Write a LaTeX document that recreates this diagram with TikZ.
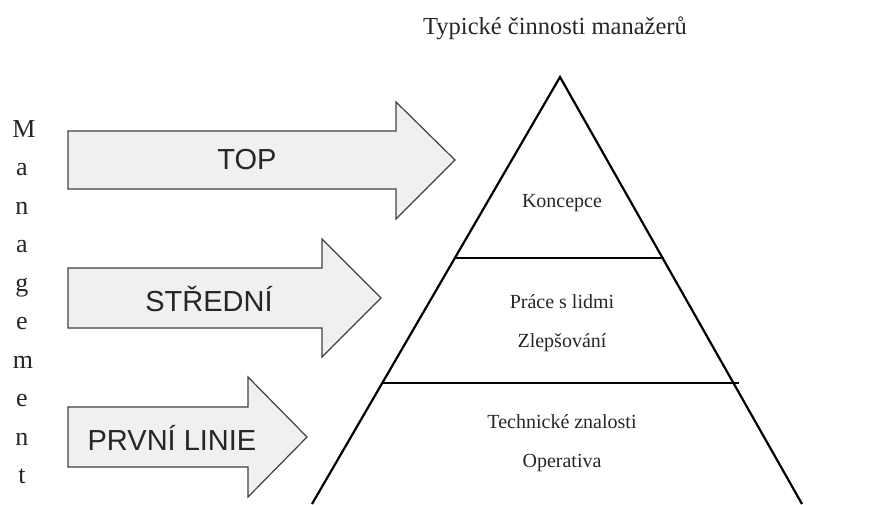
\documentclass[tikz,border=0pt]{standalone}
\usepackage{fontspec}
\setmainfont{Liberation Serif}
\newfontfamily\arialf{Liberation Sans}
\begin{document}
\begin{tikzpicture}[x=1pt,y=-1pt,
  arr/.style={draw=black!75,line width=1.2pt,fill=black!6,line join=miter},
  arrtext/.style={font=\arialf\fontsize{29}{31}\selectfont,text=black!85,inner sep=0pt},
  pyr/.style={draw=black,line width=2.2pt},
  pyrtext/.style={font=\fontsize{20}{22}\selectfont,text=black!85,inner sep=0pt},
  vlet/.style={font=\fontsize{26}{28}\selectfont,text=black!85,inner sep=0pt,anchor=base},
  ttl/.style={font=\fontsize{24.5}{27}\selectfont,text=black!85,inner sep=0pt}]
\useasboundingbox (0,0) rectangle (870,504);
% title
\node[ttl] (title) at (555,28) {Typické činnosti manažerů};
% pyramid
\coordinate (apex) at (560,77);
\coordinate (bl) at (312,504);
\coordinate (br) at (802,504);
\draw[pyr] (bl) -- (apex) -- (br);
\coordinate (l1a) at (455,258);
\coordinate (l1b) at (664,258);
\coordinate (l2a) at (382,383);
\coordinate (l2b) at (739,383);
\draw[pyr] (l1a) -- (l1b);
\draw[pyr] (l2a) -- (l2b);
\node[pyrtext] (konc) at (562,203) {Koncepce};
\node[pyrtext] (prace) at (562,302) {Práce s lidmi};
\node[pyrtext] (zlep) at (562,343) {Zlepšování};
\node[pyrtext] (tech) at (562,422) {Technické znalosti};
\node[pyrtext] (oper) at (562,463) {Operativa};
% arrows
\draw[arr] (68,131) -- (396,131) -- (396,102) -- (455,160) -- (396,219) -- (396,189) -- (68,189) -- cycle;
\node[arrtext] (top) at (247,160) {TOP};
\draw[arr] (68,268) -- (322,268) -- (322,239) -- (381,298) -- (322,357) -- (322,328) -- (68,328) -- cycle;
\node[arrtext] (stred) at (209,299) {STŘEDNÍ};
\draw[arr] (68,407) -- (248,407) -- (248,377) -- (307,437) -- (248,497) -- (248,467) -- (68,467) -- cycle;
\node[arrtext] (prvni) at (172,438) {PRVNÍ LINIE};
% vertical Management
\node[vlet] (m1) at (24,137) {M};
\node[vlet] (m2) at (22,175.5) {a};
\node[vlet] (m3) at (22,214) {n};
\node[vlet] (m4) at (22,252.5) {a};
\node[vlet] (m5) at (22,291) {g};
\node[vlet] (m6) at (22,329.5) {e};
\node[vlet] (m7) at (23,368) {m};
\node[vlet] (m8) at (22,406.5) {e};
\node[vlet] (m9) at (22,445) {n};
\node[vlet] (m10) at (22,483.5) {t};
\end{tikzpicture}
\end{document}
